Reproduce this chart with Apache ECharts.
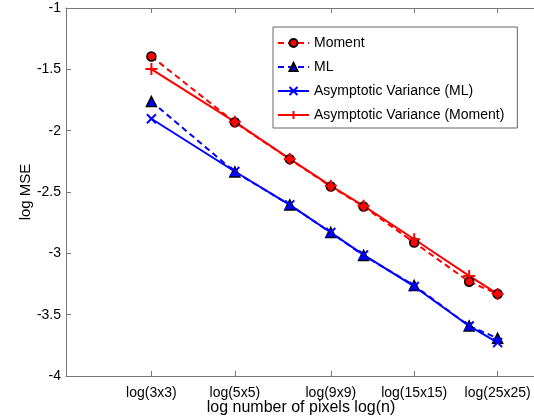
<!DOCTYPE html>
<html>
<head>
<meta charset="utf-8">
<script src="https://cdn.jsdelivr.net/npm/echarts@6/dist/echarts.min.js"></script>
<style>
  html, body { margin: 0; padding: 0; background: #fff; }
  #chart { width: 534px; height: 417px; }
</style>
</head>
<body>
<div id="chart"></div>
<script>
// window sizes (n = size x size pixels)
var sizes = [3, 5, 7, 9, 11, 15, 21, 25];
var tickSizes = [3, 5, 9, 15, 25];

// log MSE
var momentMSE = [-1.395, -1.932, -2.232, -2.455, -2.619, -2.912, -3.231, -3.331];
var mlMSE = [-1.762, -2.336, -2.605, -2.830, -3.017, -3.262, -3.592, -3.692];
var avML = [-1.903, -2.333, -2.605, -2.830, -3.013, -3.270, -3.592, -3.728];
var avMoment = [-1.498, -1.928, -2.230, -2.450, -2.613, -2.885, -3.184, -3.331];

var FONT = '"Liberation Sans", Arial, Helvetica, sans-serif';
var xVals = sizes.map(function (s) { return Math.log10(s * s); });
var tickVals = tickSizes.map(function (s) { return Math.log10(s * s); });

function pairs(ys) {
	return ys.map(function (y, i) { return [xVals[i], y]; });
}
function tickLabel(v) {
	for (var i = 0; i < tickVals.length; i++) {
		if (Math.abs(tickVals[i] - v) < 1e-6) {
			return 'log(' + tickSizes[i] + 'x' + tickSizes[i] + ')';
		}
	}
	return '';
}

var myChart = echarts.init(document.getElementById('chart'));

var option = {
	animation: false,
	backgroundColor: '#fff',
	textStyle: { fontFamily: FONT },
	grid: { left: 66, top: 8, width: 470, height: 368, outerBoundsMode: 'none', containLabel: false },
	legend: {
		orient: 'vertical',
		left: 273,
		top: 27,
		padding: [9, 13, 6, 4],
		itemWidth: 31,
		itemHeight: 10,
		itemGap: 10,
		backgroundColor: '#fff',
		borderColor: '#666',
		borderWidth: 1,
		textStyle: { fontFamily: FONT, fontSize: 14, color: '#000' },
		data: ['Moment', 'ML', 'Asymptotic Variance (ML)', 'Asymptotic Variance (Moment)']
	},
	xAxis: [{
		type: 'value',
		min: 0.5,
		max: 3,
		name: 'log number of pixels log(n)',
		nameLocation: 'middle',
		nameGap: 24,
		nameMoveOverlap: false,
		nameTextStyle: { fontFamily: FONT, fontSize: 16, color: '#000' },
		axisLine: { lineStyle: { color: '#777', width: 1 } },
		axisTick: { inside: true, length: 5, customValues: tickVals, lineStyle: { color: '#777' } },
		axisLabel: {
			customValues: tickVals,
			formatter: tickLabel,
			margin: 10,
			fontFamily: FONT, fontSize: 14, color: '#000'
		},
		splitLine: { show: false }
	}, {
		type: 'value',
		position: 'top',
		min: 0.5,
		max: 3,
		axisLine: { lineStyle: { color: '#777', width: 1 } },
		axisTick: { inside: true, length: 5, customValues: tickVals, lineStyle: { color: '#777' } },
		axisLabel: { show: false },
		splitLine: { show: false }
	}],
	yAxis: {
		type: 'value',
		min: -4,
		max: -1,
		interval: 0.5,
		name: 'log MSE',
		nameLocation: 'middle',
		nameGap: 33,
		nameMoveOverlap: false,
		nameRotate: 90,
		nameTextStyle: { fontFamily: FONT, fontSize: 15, color: '#000' },
		axisLine: { show: true, lineStyle: { color: '#777', width: 1 } },
		axisTick: { show: true, inside: true, length: 5, lineStyle: { color: '#777' } },
		axisLabel: { margin: 5, fontFamily: FONT, fontSize: 14, color: '#000' },
		splitLine: { show: false }
	},
	series: [{
		name: 'Moment',
		type: 'line',
		data: pairs(momentMSE),
		symbol: 'circle',
		symbolSize: 9,
		color: '#ff0000',
		lineStyle: { color: '#ff0000', width: 2, type: [6, 4] },
		itemStyle: { color: '#ff0000', borderColor: '#000', borderWidth: 1.5 }
	}, {
		name: 'ML',
		type: 'line',
		data: pairs(mlMSE),
		symbol: 'triangle',
		symbolSize: 10,
		color: '#0000ff',
		lineStyle: { color: '#0000ff', width: 2, type: [6, 4] },
		itemStyle: { color: '#0000ff', borderColor: '#000', borderWidth: 1.5 }
	}, {
		name: 'Asymptotic Variance (ML)',
		type: 'line',
		data: pairs(avML),
		symbol: 'path://M0,0L10,10M10,0L0,10',
		symbolSize: 9,
		color: '#0000ff',
		lineStyle: { color: '#0000ff', width: 2 },
		itemStyle: { color: '#0000ff', borderColor: '#0000ff', borderWidth: 2 }
	}, {
		name: 'Asymptotic Variance (Moment)',
		type: 'line',
		data: pairs(avMoment),
		symbol: 'path://M5,0L5,10M0,5L10,5',
		symbolSize: 12,
		color: '#ff0000',
		lineStyle: { color: '#ff0000', width: 2 },
		itemStyle: { color: '#ff0000', borderColor: '#ff0000', borderWidth: 2 }
	}]
};

myChart.setOption(option);
</script>
</body>
</html>
